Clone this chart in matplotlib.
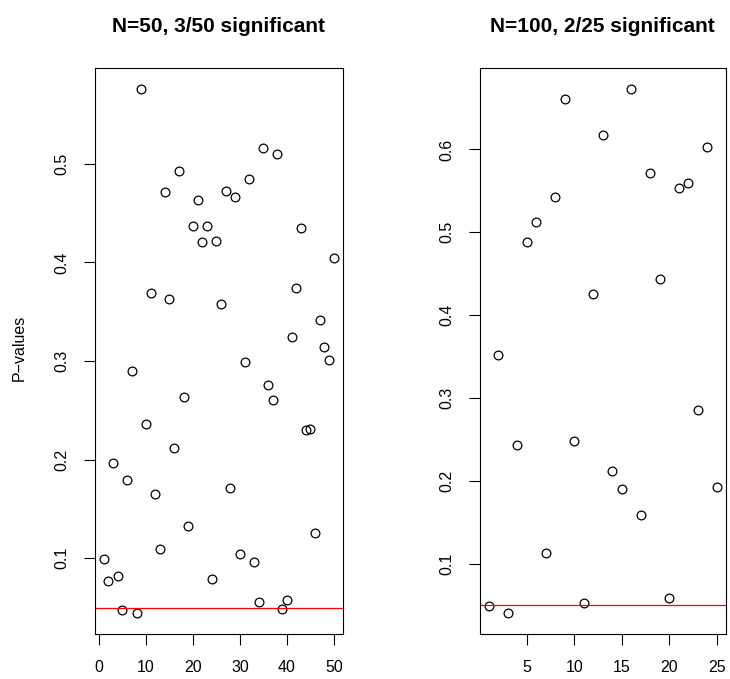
import matplotlib
matplotlib.use("Agg")
import numpy as np
import matplotlib.pyplot as plt

plt.rcParams['font.family'] = ['Liberation Sans', 'DejaVu Sans']

# p-values, first panel (N=50)
pvals_50 = [0.099, 0.077, 0.197, 0.082, 0.048, 0.179, 0.290, 0.045, 0.576, 0.236,
            0.369, 0.165, 0.109, 0.471, 0.363, 0.212, 0.493, 0.264, 0.133, 0.437,
            0.463, 0.421, 0.437, 0.079, 0.422, 0.358, 0.472, 0.171, 0.466, 0.104,
            0.299, 0.485, 0.096, 0.056, 0.516, 0.276, 0.261, 0.510, 0.049, 0.058,
            0.324, 0.374, 0.435, 0.230, 0.231, 0.126, 0.342, 0.314, 0.301, 0.405]

# p-values, second panel (N=100)
pvals_100 = [0.049, 0.352, 0.041, 0.243, 0.488, 0.512, 0.113, 0.542, 0.661, 0.248,
             0.053, 0.425, 0.618, 0.212, 0.190, 0.673, 0.159, 0.572, 0.443, 0.058,
             0.553, 0.560, 0.286, 0.603, 0.192]

titles = ['N=50, 3/50 significant', 'N=100, 2/25 significant']
xticks_list = [[0, 10, 20, 30, 40, 50], [5, 10, 15, 20, 25]]
yticks_list = [[0.1, 0.2, 0.3, 0.4, 0.5], [0.1, 0.2, 0.3, 0.4, 0.5, 0.6]]
alpha = 0.05

fig = plt.figure(figsize=(7.30, 6.79), dpi=100)
ax1 = fig.add_axes([94.5 / 730, 45.5 / 679, 248.5 / 730, 565.5 / 679])
ax2 = fig.add_axes([479.5 / 730, 45.5 / 679, 246.5 / 730, 565.5 / 679])


def r_lim(vals):
    # R style 4% padding
    lo, hi = min(vals), max(vals)
    pad = (hi - lo) * 0.04
    return lo - pad, hi + pad


for ax, vals, title, xt, yt in zip([ax1, ax2], [pvals_50, pvals_100], titles,
                                   xticks_list, yticks_list):
    idx = np.arange(1, len(vals) + 1)
    ax.plot(idx, vals, linestyle='none', marker='o', markersize=6.3,
            markerfacecolor='none', markeredgecolor='black', markeredgewidth=0.9)
    ax.axhline(alpha, color='red', linewidth=0.9)
    ax.set_xlim(*r_lim(idx))
    ax.set_ylim(*r_lim(vals))
    ax.set_xticks(xt)
    ax.set_yticks(yt)
    ax.set_xticklabels([str(t) for t in xt])
    ax.set_yticklabels([str(t) for t in yt], rotation=90, va='center')
    ax.tick_params(axis='both', direction='out', length=8, width=0.8,
                   labelsize=11.5, color='black')
    ax.tick_params(axis='x', pad=11)
    ax.tick_params(axis='y', pad=10)
    for sp in ax.spines.values():
        sp.set_linewidth(0.8)
        sp.set_color('black')
    ax.set_title(title, fontsize=15, fontweight='bold', pad=26)

fig.text(19 / 730, 1 - 348 / 679, 'P\u2212values', rotation=90,
         ha='center', va='center', fontsize=11.5)

fig.savefig('out.png', dpi=100)
